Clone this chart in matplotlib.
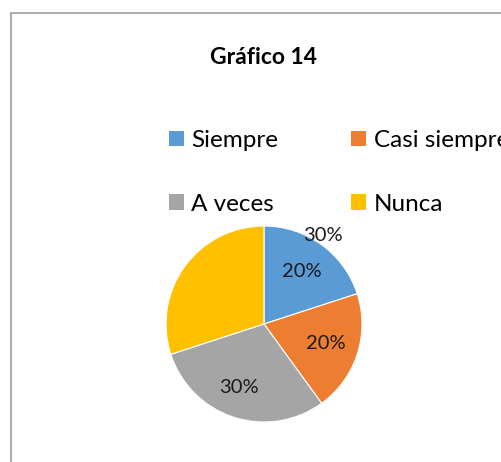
import matplotlib
matplotlib.use("Agg")
import matplotlib.pyplot as plt
from matplotlib.patches import Rectangle, Patch

plt.rcParams['font.family'] = ['Lato', 'DejaVu Sans']

categories = ["Siempre", "Casi siempre", "A veces", "Nunca"]
values = [20, 20, 30, 30]
colors = ["#5B9BD5", "#ED7D31", "#A5A5A5", "#FFC000"]
title = "Gráfico 14"

W, H = 502, 462
fig = plt.figure(figsize=(W / 100, H / 100), dpi=100)
fig.patch.set_facecolor("white")

# chart border (clipped at right and bottom like the reference)
fig.patches.append(Rectangle((11 / W, -0.05), 1.2, 1 - 13 / H + 0.05,
                             transform=fig.transFigure, fill=False,
                             edgecolor="#A6A6A6", linewidth=1.3))

cx, cy, R = 264, 324, 98
half = 104
ax = fig.add_axes([(cx - half) / W, (H - cy - half) / H, 2 * half / W, 2 * half / H])

wedges, texts, autotexts = ax.pie(values, colors=colors, startangle=90,
                                  counterclock=False, radius=1,
                                  autopct=lambda p: f"{p:.0f}%", pctdistance=0.66,
                                  wedgeprops=dict(edgecolor="white", linewidth=0.8),
                                  textprops=dict(fontsize=14.5, color="#1a1a1a"))
lim = half / R
ax.set_xlim(-lim, lim)
ax.set_ylim(-lim, lim)
ax.set_aspect("equal")
ax.axis("off")

# Nunca's label sits at the top right in the reference
autotexts[3].set_position((0.60, 0.90))
autotexts[2].set_position((-0.255, -0.65))

fig.text(263 / W, 1 - 57 / H, title, ha="center", va="center",
         fontsize=16.5, fontweight="bold", color="#000000")

handles = [Patch(facecolor=c, edgecolor="none") for c in colors]
order = [0, 2, 1, 3]  # row-major layout like the reference
leg = fig.legend([handles[i] for i in order], [categories[i] for i in order],
                 ncol=2, loc="upper left",
                 bbox_to_anchor=(169 / W, 1 - 130 / H), frameon=False,
                 fontsize=17.5, handlelength=0.62, handleheight=0.62,
                 handletextpad=0.3, columnspacing=3.0, labelspacing=1.75,
                 borderaxespad=0, borderpad=0)

fig.savefig("out.png", dpi=100)
